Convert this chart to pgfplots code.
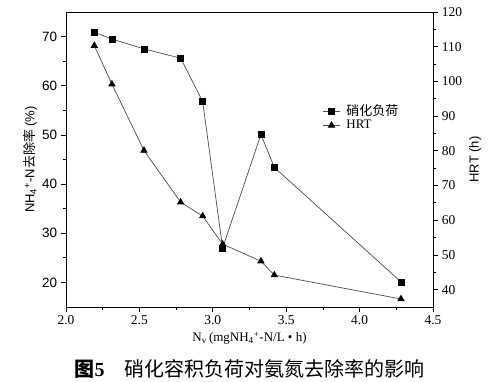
\documentclass[border=0pt]{standalone}
\usepackage{pgfplots}
\pgfplotsset{compat=1.18}
\usepackage{fontspec}
\setmainfont{Liberation Serif}
\setsansfont{Liberation Sans}
\newfontfamily\cjk{Noto Sans CJK SC}
\begin{document}
\begin{tikzpicture}
\pgfplotsset{
  every tick label/.append style={font=\fontsize{13.5}{13.5}\selectfont},
  /pgf/number format/assume math mode=true,
  every axis/.append style={line width=0.9pt},
  every tick/.style={black, line width=0.8pt},
  major tick length=5pt, minor tick length=3pt,
}
\begin{axis}[
  scale only axis, width=367pt, height=295pt,
  xmin=2, xmax=4.5, ymin=15, ymax=75,
  xtick={2,2.5,...,4.5}, minor x tick num=1,
  ytick={20,30,...,70}, minor y tick num=1,
  xtick pos=bottom, ytick pos=left, tick align=outside,
  xticklabel style={/pgf/number format/.cd, fixed, fixed zerofill, precision=1},
  yticklabel style={font=\sffamily\fontsize{13.5}{13.5}\selectfont},
  xlabel={\fontsize{13}{13}\selectfont N\textsubscript{v}\,(mgNH\textsubscript{4}\textsuperscript{+}-N/L \textbullet{} h)},
  ylabel={\fontsize{13}{13}\selectfont\sffamily NH\textsubscript{4}\textsuperscript{+}-N{\cjk 去除率} (\%)},
  xlabel style={yshift=0pt},
  ylabel style={yshift=-2pt},
]
\addplot[black!70, line width=0.7pt, mark=square*, mark size=3pt, mark options={black, solid}] coordinates {
(2.193,70.9) (2.313,69.5) (2.531,67.5) (2.781,65.6) (2.931,56.8) (3.067,27.0) (3.328,50.1) (3.419,43.4) (4.282,20.1)};
\coordinate (sw) at (rel axis cs:0,0);
\coordinate (ne) at (rel axis cs:1,1);
\end{axis}
\begin{axis}[
  scale only axis, width=367pt, height=295pt,
  xmin=2, xmax=4.5, ymin=35, ymax=120,
  axis x line=none, axis y line*=right,
  ytick={40,50,...,120}, minor y tick num=1, tick align=outside,
  ylabel={\fontsize{13}{13}\selectfont\sffamily HRT (h)},
  legend style={draw=none, fill=none, at={(rel axis cs:0.69,0.70)}, anchor=north west, font=\fontsize{13}{13}\selectfont, row sep=-1pt},
  legend cell align=left,
]
\addlegendimage{black!70, line width=0.7pt, mark=square*, mark size=3pt, mark options={black, solid}}
\addlegendentry{\hspace{4pt}{\cjk 硝化负荷}}
\addplot[black!70, line width=0.7pt, mark=triangle*, mark size=3.6pt, mark options={black, solid}] coordinates {
(2.193,110.3) (2.313,99.2) (2.531,80.1) (2.781,65.2) (2.931,61.2) (3.067,53.1) (3.328,48.2) (3.419,44.2) (4.282,37.3)};
\addlegendentry{\hspace{4pt}HRT}
\end{axis}
\node[font=\fontsize{20}{20}\selectfont, anchor=center] at ([shift={(183.5pt,-62pt)}]sw) {\textbf{{\cjk 图}5}\quad{\cjk 硝化容积负荷对氨氮去除率的影响}};
\path ([shift={(-66pt,-75pt)}]sw) rectangle ([shift={(66pt,12pt)}]ne);
\end{tikzpicture}
\end{document}
